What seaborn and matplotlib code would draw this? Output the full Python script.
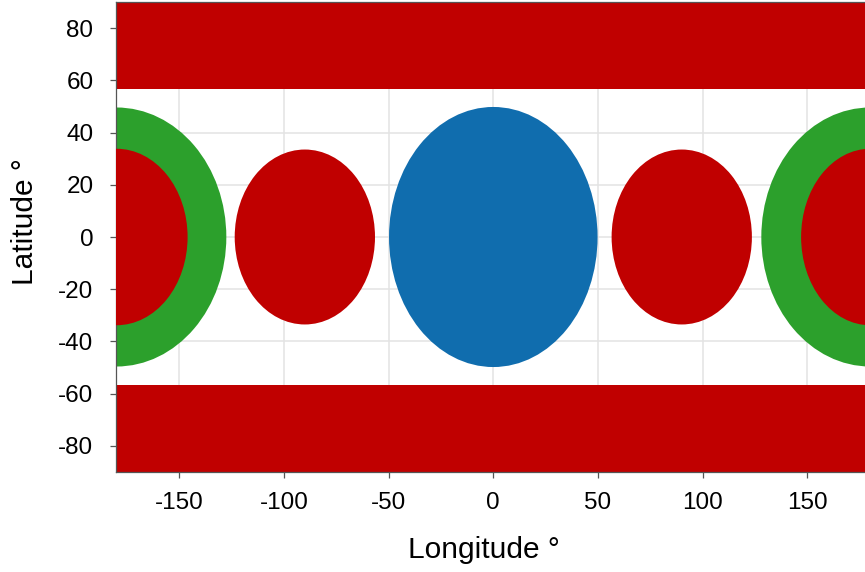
# plot.py
# Regions on a lon/lat map, drawn as ellipse patches on a seaborn-styled axes

import matplotlib
matplotlib.use("Agg")
import matplotlib.pyplot as plt
from matplotlib.patches import Ellipse
import seaborn as sns

# Data (degrees)
polar_edge = 56.5                      # red polar bands start at |lat| = 56.5

red_lon = [-180, -90, 90, 180]         # red discs on the equator
red_rx = [34.0, 33.5, 33.5, 33.0]
red_ry = [33.8, 33.5, 33.5, 33.8]

green_lon = [-180, 180]                # green rings round the date line
green_rx = [52.5, 52.0]
green_ry = [49.6, 49.6]

blue_lon = [0]                         # blue disc at the origin
blue_rx = [49.8]
blue_ry = [49.8]

x_ticks = [-150, -100, -50, 0, 50, 100, 150]
y_ticks = [-80, -60, -40, -20, 0, 20, 40, 60, 80]

RED = "#C00000"
GREEN = "#2CA02C"
BLUE = "#106DAE"

sns.set_theme(style="whitegrid")
plt.rcParams["font.family"] = ["Liberation Sans", "DejaVu Sans"]
plt.rcParams["axes.unicode_minus"] = False

fig = plt.figure(figsize=(8.65, 5.72), dpi=100)
ax = fig.add_axes([116.4 / 865, 100 / 572, 753.8 / 865, 470 / 572])

ax.set_xlim(-180, 180)
ax.set_ylim(-90, 90)

# polar bands
ax.axhspan(polar_edge, 90, color=RED, lw=0, zorder=2)
ax.axhspan(-90, -polar_edge, color=RED, lw=0, zorder=2)

for lon, rx, ry in zip(green_lon, green_rx, green_ry):
    ax.add_patch(Ellipse((lon, 0), 2 * rx, 2 * ry, color=GREEN, lw=0, zorder=2))
for lon, rx, ry in zip(blue_lon, blue_rx, blue_ry):
    ax.add_patch(Ellipse((lon, 0), 2 * rx, 2 * ry, color=BLUE, lw=0, zorder=3))
for lon, rx, ry in zip(red_lon, red_rx, red_ry):
    ax.add_patch(Ellipse((lon, 0), 2 * rx, 2 * ry, color=RED, lw=0, zorder=3))

ax.set_xticks(x_ticks)
ax.set_yticks(y_ticks)
ax.grid(True, color="#e3e3e3", linewidth=1.1, zorder=0)
ax.set_axisbelow(True)

for side in ["left", "top", "bottom"]:
    ax.spines[side].set_visible(True)
    ax.spines[side].set_color("#555555")
    ax.spines[side].set_linewidth(0.9)
ax.spines["right"].set_visible(False)

ax.tick_params(axis="both", which="major", labelsize=17.5, length=4, width=0.9,
               color="#555555", labelcolor="black", bottom=True, left=True)
ax.tick_params(axis="x", pad=10.5)
ax.tick_params(axis="y", pad=12.5)

ax.set_xlabel("Longitude °", fontsize=21.5, color="black")
ax.set_ylabel("Latitude °", fontsize=21.5, color="black")
ax.xaxis.set_label_coords(0.4877, -0.136)
ax.yaxis.set_label_coords(-0.1027, 0.532)

fig.savefig("out.png", dpi=100)
plt.close(fig)
